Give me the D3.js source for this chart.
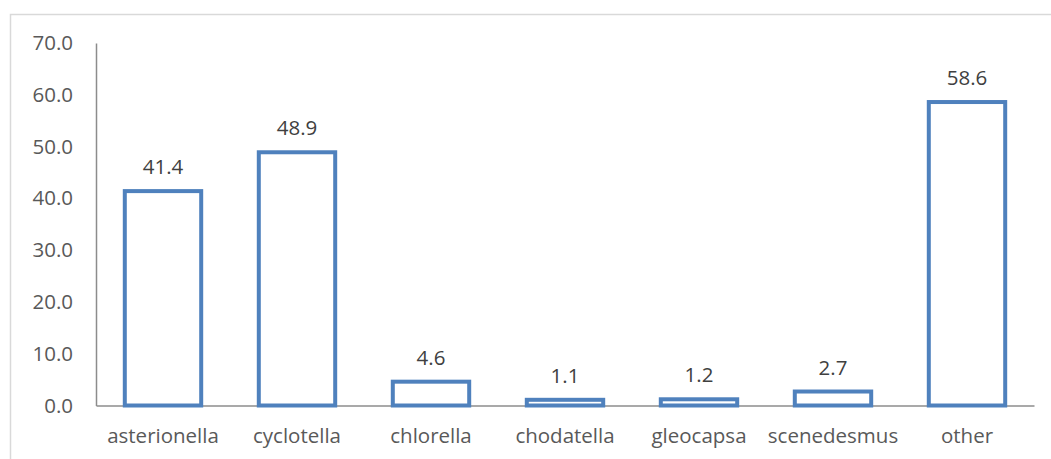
<!DOCTYPE html>
<html><head><meta charset="utf-8">
<script src="https://cdn.jsdelivr.net/npm/d3@7"></script>
<style>body{margin:0;background:#fff}svg{display:block}</style>
</head><body>
<script>
const categories = ["asterionella","cyclotella","chlorella","chodatella","gleocapsa","scenedesmus","other"];
const values = [41.4, 48.9, 4.6, 1.1, 1.2, 2.7, 58.6];
const yTicks = [0,10,20,30,40,50,60,70];

const W = 1051, H = 459;
const svg = d3.select("body").append("svg").attr("width", W).attr("height", H);
const font = "'Open Sans', sans-serif";
const fs = 20.5;

svg.append("rect").attr("x",10.5).attr("y",14.5).attr("width",1060).attr("height",460)
  .attr("fill","none").attr("stroke","#d9d9d9").attr("stroke-width",1.5);

const x = d3.scaleBand().domain(categories).range([96, 1034]).paddingInner(0.4).paddingOuter(0.2);
const y = d3.scaleLinear().domain([0,70]).range([405.5, 43]);

// y axis
const yAxis = svg.append("g").attr("transform","translate(96,0)")
  .call(d3.axisLeft(y).tickValues(yTicks).tickSize(0).tickPadding(23).tickFormat(d3.format(".1f")));
yAxis.select(".domain").attr("stroke","#8c8c8c").attr("stroke-width",1.5);
yAxis.selectAll("text").attr("font-family",font).attr("font-size",fs).attr("fill","#595959");

// x axis
const xAxis = svg.append("g").attr("transform","translate(0,405.5)")
  .call(d3.axisBottom(x).tickSize(0).tickPadding(23).tickSizeOuter(0));
xAxis.select(".domain").attr("stroke","#8c8c8c").attr("stroke-width",1.5);
xAxis.selectAll("text").attr("font-family",font).attr("font-size",fs).attr("fill","#595959");

// bars
const sw = 4;
svg.append("g").selectAll("rect").data(values).join("rect")
  .attr("x",(d,i)=>x(categories[i]) + sw/2)
  .attr("width", x.bandwidth() - sw)
  .attr("y", d=>y(d))
  .attr("height", d=>y(0)-y(d))
  .attr("fill","none").attr("stroke","#4f81bd").attr("stroke-width",sw);

// value labels
svg.append("g").selectAll("text").data(values).join("text")
  .attr("x",(d,i)=>x(categories[i]) + x.bandwidth()/2)
  .attr("y", d=>y(d) - 17)
  .attr("text-anchor","middle")
  .attr("font-family",font).attr("font-size",fs).attr("fill","#404040")
  .text(d=>d3.format(".1f")(d));
</script>
</body></html>
